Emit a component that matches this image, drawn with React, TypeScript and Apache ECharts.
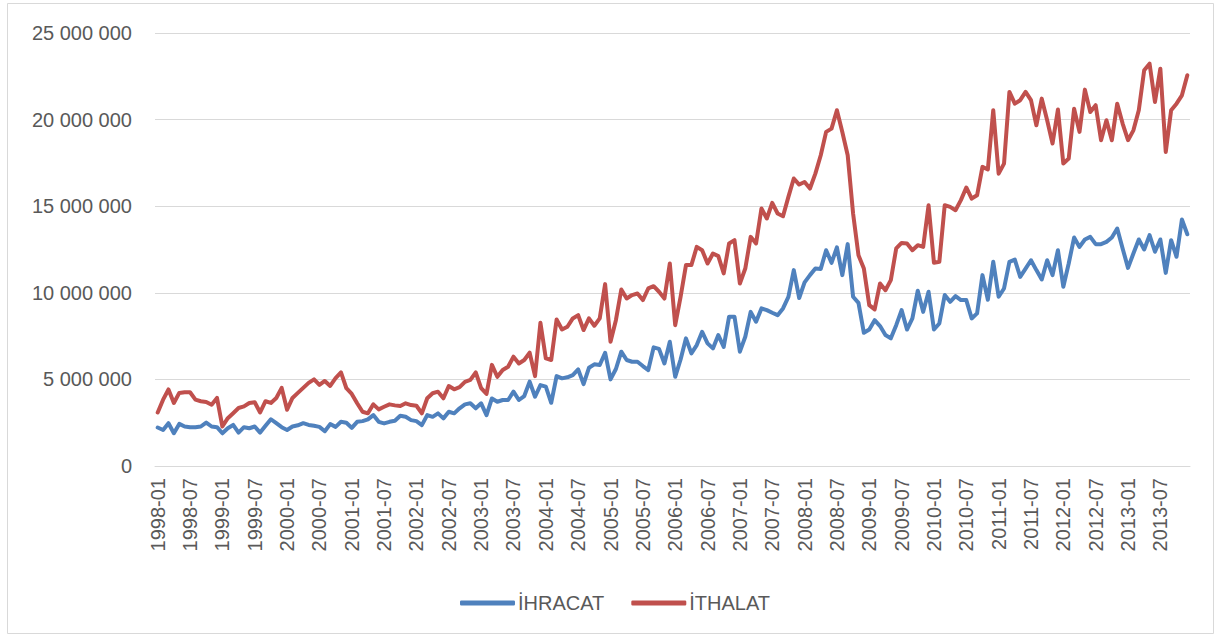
import React, { useEffect, useRef } from "react";
import * as echarts from "echarts";

const YEARS = [1998, 1999, 2000, 2001, 2002, 2003, 2004, 2005, 2006, 2007, 2008, 2009, 2010, 2011, 2012, 2013];
const MONTHS = ["01", "02", "03", "04", "05", "06", "07", "08", "09", "10", "11", "12"];
const categories: string[] = [];
YEARS.forEach((y) => MONTHS.forEach((m) => categories.push(`${y}-${m}`)));

const ihracat = [
  2220000, 2080000, 2470000, 1890000, 2430000, 2280000, 2240000, 2240000, 2280000, 2510000, 2280000, 2240000,
  1890000, 2180000, 2370000, 1930000, 2240000, 2180000, 2280000, 1930000, 2320000, 2700000, 2470000, 2240000,
  2080000, 2280000, 2350000, 2470000, 2370000, 2320000, 2260000, 2010000, 2420000, 2260000, 2550000, 2500000,
  2200000, 2550000, 2590000, 2690000, 2940000, 2550000, 2460000, 2550000, 2610000, 2900000, 2840000, 2650000,
  2590000, 2360000, 2940000, 2840000, 3040000, 2750000, 3130000, 3040000, 3330000, 3560000, 3620000, 3330000,
  3620000, 2940000, 3900000, 3710000, 3810000, 3810000, 4290000, 3810000, 4040000, 4870000, 4000000, 4670000,
  4580000, 3650000, 5190000, 5060000, 5120000, 5250000, 5580000, 4730000, 5670000, 5870000, 5830000, 6540000,
  5000000, 5600000, 6600000, 6120000, 6020000, 6020000, 5770000, 5540000, 6850000, 6760000, 5920000, 7170000,
  5150000, 6150000, 7370000, 6500000, 6980000, 7750000, 7080000, 6790000, 7560000, 6880000, 8620000, 8620000,
  6600000, 7460000, 8900000, 8330000, 9100000, 9000000, 8850000, 8710000, 9100000, 9770000, 11310000, 9700000,
  10600000, 11020000, 11400000, 11380000, 12460000, 11730000, 12620000, 11020000, 12810000, 9770000, 9420000, 7690000,
  7880000, 8420000, 8080000, 7560000, 7370000, 8130000, 9000000, 7880000, 8520000, 10120000, 8900000, 10060000,
  7880000, 8230000, 9870000, 9480000, 9810000, 9580000, 9580000, 8520000, 8810000, 11020000, 9600000, 11790000,
  9770000, 10250000, 11790000, 11920000, 10920000, 11400000, 11880000, 11310000, 10770000, 11880000, 11020000, 12460000,
  10350000, 11690000, 13190000, 12650000, 13080000, 13230000, 12810000, 12810000, 12940000, 13190000, 13710000, 12560000,
  11440000, 12270000, 13080000, 12500000, 13330000, 12370000, 13080000, 11150000, 13040000, 12080000, 14230000, 13380000,
];

const ithalat = [
  3090000, 3830000, 4420000, 3640000, 4220000, 4260000, 4260000, 3830000, 3740000, 3700000, 3540000, 3930000,
  2280000, 2760000, 3050000, 3350000, 3440000, 3640000, 3680000, 3090000, 3740000, 3640000, 3930000, 4510000,
  3250000, 3930000, 4220000, 4510000, 4800000, 5000000, 4680000, 4910000, 4620000, 5070000, 5400000, 4490000,
  4160000, 3620000, 3130000, 3040000, 3560000, 3270000, 3420000, 3560000, 3500000, 3460000, 3620000, 3520000,
  3480000, 3040000, 3910000, 4200000, 4290000, 3910000, 4620000, 4430000, 4550000, 4860000, 4970000, 5400000,
  4500000, 4160000, 5840000, 5150000, 5540000, 5730000, 6310000, 5920000, 6120000, 6540000, 5190000, 8270000,
  6210000, 6120000, 8460000, 7880000, 8040000, 8520000, 8710000, 7850000, 8520000, 8100000, 8520000, 10500000,
  7170000, 8420000, 10190000, 9670000, 9870000, 9960000, 9580000, 10250000, 10380000, 10060000, 9670000, 11690000,
  8130000, 9770000, 11600000, 11600000, 12650000, 12460000, 11690000, 12270000, 12120000, 11120000, 12850000, 13040000,
  10540000, 11400000, 13230000, 12850000, 14870000, 14290000, 15190000, 14580000, 14420000, 15540000, 16600000, 16250000,
  16400000, 16020000, 16880000, 17940000, 19290000, 19480000, 20540000, 19290000, 17940000, 14580000, 12170000, 11400000,
  9290000, 9040000, 10540000, 10150000, 10730000, 12560000, 12880000, 12850000, 12460000, 12750000, 12650000, 15060000,
  11730000, 11790000, 15060000, 14960000, 14770000, 15350000, 16080000, 15440000, 15630000, 17270000, 17120000, 20540000,
  16880000, 17460000, 21600000, 20920000, 21120000, 21600000, 21120000, 19670000, 21210000, 19960000, 18620000, 20580000,
  17460000, 17750000, 20630000, 19290000, 21730000, 20440000, 20830000, 18810000, 19960000, 18810000, 20920000, 19770000,
  18810000, 19380000, 20540000, 22850000, 23230000, 21020000, 22940000, 18130000, 20540000, 20920000, 21400000, 22560000,
];

const FONT = "'Liberation Sans', Arial, sans-serif";
const TEXT = "#595959";
const GRID = "#D9D9D9";
const BLUE = "#4F81BD";
const RED = "#C0504D";

const fmt = (v: number) => String(v).replace(/\B(?=(\d{3})+(?!\d))/g, " ");

export default function App() {
  const ref = useRef<HTMLDivElement>(null);
  useEffect(() => {
    if (!ref.current) return;
    const chart = echarts.init(ref.current, null, { renderer: "svg" });
    chart.setOption({
      animation: false,
      backgroundColor: "#ffffff",
      textStyle: { fontFamily: FONT },
      grid: { left: 155, right: 27, top: 33, bottom: 174, containLabel: false },
      graphic: [
        {
          type: "rect",
          shape: { x: 7.5, y: 3.5, width: 1206, height: 630 },
          style: { fill: "none", stroke: GRID, lineWidth: 1 },
          silent: true,
        },
      ],
      legend: {
        left: 460,
        top: 593,
        padding: 0,
        icon: "roundRect",
        itemWidth: 55,
        itemHeight: 5,
        itemGap: 27,
        textStyle: { color: TEXT, fontSize: 20, fontFamily: FONT, padding: [0, 0, 0, -2] },
        data: ["İHRACAT", "İTHALAT"],
      },
      xAxis: {
        type: "category",
        data: categories,
        boundaryGap: true,
        axisLine: { show: true, lineStyle: { color: GRID, width: 1 } },
        axisTick: { show: false },
        axisLabel: {
          interval: 5,
          rotate: 90,
          margin: 12,
          color: TEXT,
          fontSize: 20,
          fontFamily: FONT,
        },
      },
      yAxis: {
        type: "value",
        min: 0,
        max: 25000000,
        interval: 5000000,
        axisLine: { show: false },
        axisTick: { show: false },
        splitLine: { lineStyle: { color: GRID, width: 1 } },
        axisLabel: {
          margin: 23,
          color: TEXT,
          fontSize: 20,
          fontFamily: FONT,
          formatter: (v: number) => fmt(v),
        },
      },
      series: [
        {
          name: "İHRACAT",
          type: "line",
          data: ihracat,
          symbol: "none",
          color: BLUE,
          itemStyle: { color: BLUE },
          lineStyle: { color: BLUE, width: 4, cap: "round", join: "round" },
        },
        {
          name: "İTHALAT",
          type: "line",
          data: ithalat,
          symbol: "none",
          color: RED,
          itemStyle: { color: RED },
          lineStyle: { color: RED, width: 4, cap: "round", join: "round" },
        },
      ],
    });
    return () => chart.dispose();
  }, []);
  return (
    <div
      ref={ref}
      style={{ position: "absolute", left: 0, top: 0, width: 1217, height: 640 }}
    />
  );
}
